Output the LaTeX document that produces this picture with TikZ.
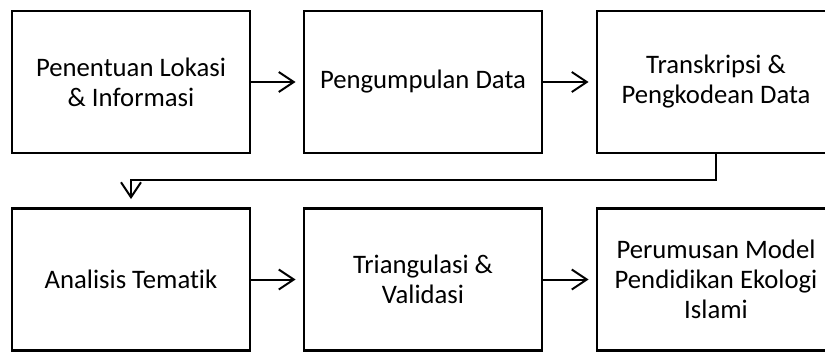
\documentclass[tikz,border=0pt]{standalone}
\usepackage{fontspec}
\setmainfont{Carlito}[Ligatures=NoCommon]
\usetikzlibrary{arrows.meta}
\begin{document}
\begin{tikzpicture}[x=1pt,y=-1pt,
  box/.style={draw,line width=2.8pt,minimum width=238pt,minimum height=142pt,
    align=center,inner sep=0pt,font=\fontsize{26.7}{30}\selectfont},
  arr/.style={line width=2pt,-{Straight Barb[length=15pt,width=20pt,line width=2pt]}}]
\useasboundingbox (0,0) rectangle (825,353);
\clip (0,0) rectangle (825,353);
\node[box] (b1) at (131,82) {Penentuan Lokasi\\\& Informasi};
\node[box] (b2) at (423,82) {Pengumpulan Data};
\node[box] (b3) at (716,82) {Transkripsi \&\\Pengkodean Data};
\node[box] (b4) at (131,279.5) {Analisis Tematik};
\node[box] (b5) at (423,279.5) {Triangulasi \&\\Validasi};
\node[box] (b6) at (716,279.5) {Perumusan Model\\Pendidikan Ekologi\\Islami};
\coordinate (turn) at (131,180);
\draw[arr,shorten >=7pt] (b1) -- (b2);
\draw[arr,shorten >=7pt] (b2) -- (b3);
\draw[arr,shorten >=8pt] (b3.south) |- (turn) -- (b4.north);
\draw[arr,shorten >=7pt] (b4) -- (b5);
\draw[arr,shorten >=7pt] (b5) -- (b6);
\end{tikzpicture}
\end{document}
